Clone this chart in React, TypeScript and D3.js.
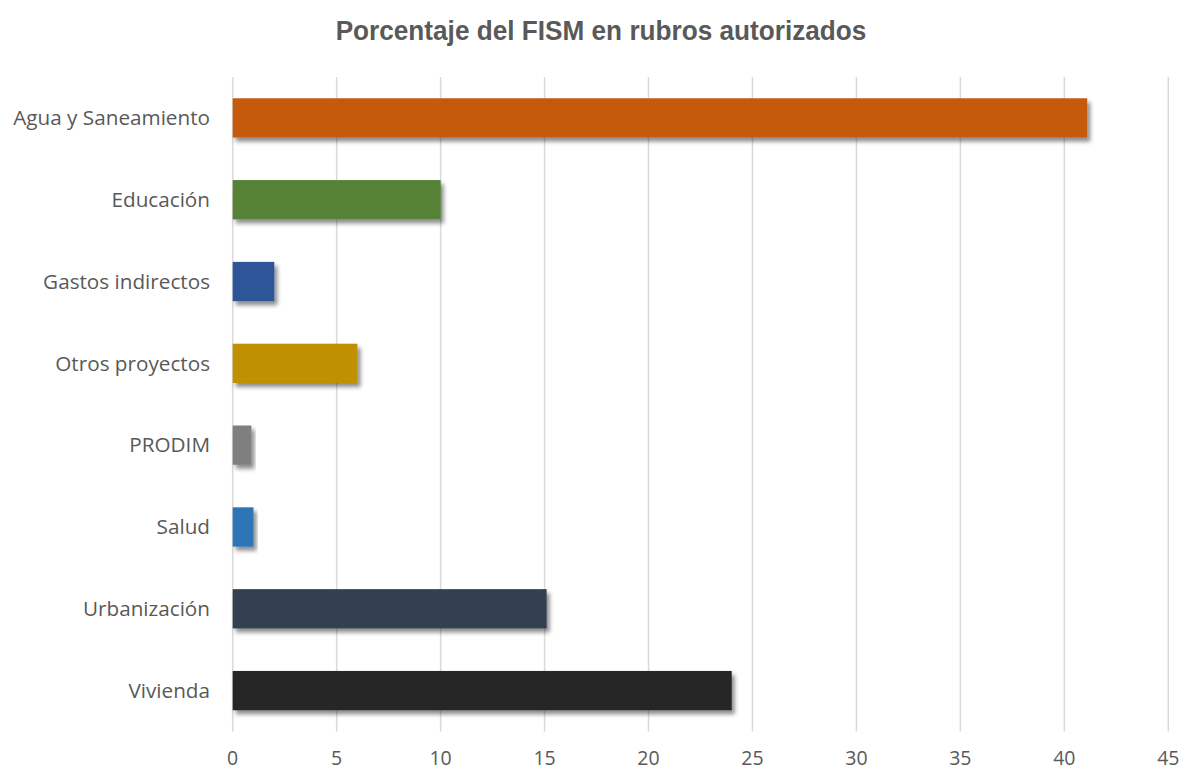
import React from "react";
import * as d3 from "d3";

const categories = ["Agua y Saneamiento", "Educación", "Gastos indirectos", "Otros proyectos", "PRODIM", "Salud", "Urbanización", "Vivienda"];
const values = [41.1, 10.0, 2.0, 6.0, 0.9, 1.0, 15.1, 24.0];
const colors = ["#C55A11", "#548235", "#2F5597", "#BF9000", "#7F7F7F", "#2E75B6", "#333F50", "#262626"];
const ticks = [0, 5, 10, 15, 20, 25, 30, 35, 40, 45];
const title = "Porcentaje del FISM en rubros autorizados";

export default function App() {
  const W = 1185, H = 772;
  const x = d3.scaleLinear().domain([0, 45]).range([232.7, 1168.3]);
  const y = d3.scaleBand<string>().domain(categories).range([77, 731.5]).paddingInner(0.52).paddingOuter(0.26);
  const font = "'Open Sans', Lato, sans-serif";
  return (
    <svg width={W} height={H} style={{ position: "absolute", left: 0, top: 0, background: "#fff" }}>
      <defs>
        <filter id="sh" x="-20%" y="-30%" width="140%" height="170%">
          <feDropShadow dx={3} dy={4} stdDeviation={2} floodColor="#000" floodOpacity={0.45} />
        </filter>
      </defs>
      <g transform="translate(601,40) scale(0.935,1)">
        <text x={0} y={0} textAnchor="middle" fontFamily="'Liberation Sans Narrow', 'Liberation Sans', Arial" fontWeight="bold" fontSize={28} fill="#595959">{title}</text>
      </g>
      {ticks.map((t) => (
        <g key={t}>
          <line x1={x(t)} x2={x(t)} y1={77} y2={731.5} stroke="#d9d9d9" strokeWidth={1.5} />
          <text x={x(t)} y={765} textAnchor="middle" fontFamily={font} fontSize={19.5} fill="#595959">{t}</text>
        </g>
      ))}
      {categories.map((c, i) => (
        <g key={c}>
          <rect x={x(0)} y={y(c)!} width={x(values[i]) - x(0)} height={y.bandwidth()} fill={colors[i]} filter="url(#sh)" />
          <text x={210} y={y(c)! + y.bandwidth() / 2} dy="0.35em" textAnchor="end" fontFamily={font} fontSize={20.7} fill="#595959">{c}</text>
        </g>
      ))}
    </svg>
  );
}
